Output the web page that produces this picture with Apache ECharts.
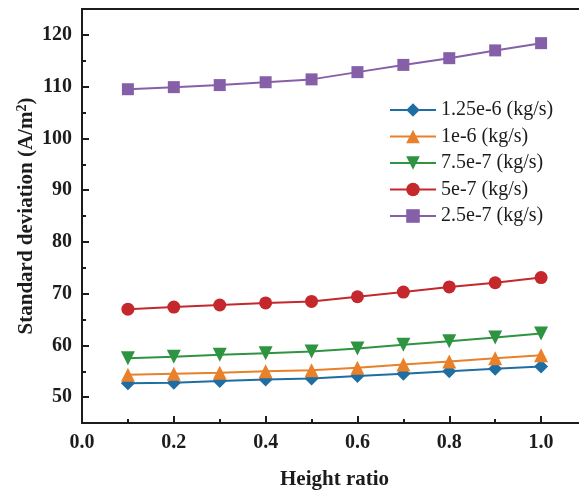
<!DOCTYPE html>
<html>
<head>
<meta charset="utf-8">
<script src="https://cdn.jsdelivr.net/npm/echarts@6/dist/echarts.min.js"></script>
<style>
  html, body { margin: 0; padding: 0; background: #fff; overflow: hidden; }
  /* the frame runs slightly past the right edge of the window */
  #chart { width: 587px; height: 491px; }
</style>
</head>
<body>
<div id="chart"></div>
<script>
// Height ratio sample points
const heightRatio = [0.1, 0.2, 0.3, 0.4, 0.5, 0.6, 0.7, 0.8, 0.9, 1.0];

// Standard deviation (A/m^2) for each mass flow rate
const flow125e6 = [52.7, 52.8, 53.1, 53.4, 53.6, 54.1, 54.5, 55.0, 55.5, 55.9];
const flow1e6   = [54.3, 54.5, 54.7, 55.0, 55.2, 55.7, 56.3, 56.9, 57.5, 58.1];
const flow75e7  = [57.5, 57.8, 58.2, 58.5, 58.8, 59.4, 60.1, 60.8, 61.5, 62.3];
const flow5e7   = [67.0, 67.4, 67.8, 68.2, 68.5, 69.4, 70.3, 71.3, 72.1, 73.1];
const flow25e7  = [109.5, 109.9, 110.3, 110.85, 111.4, 112.8, 114.2, 115.5, 117.0, 118.4];

const seriesNames = ['1.25e-6 (kg/s)', '1e-6 (kg/s)', '7.5e-7 (kg/s)', '5e-7 (kg/s)', '2.5e-7 (kg/s)'];

// Axis ticks and labels
const xMajorTicks = [0, 0.2, 0.4, 0.6, 0.8, 1.0];
const xMinorTicks = [0.1, 0.3, 0.5, 0.7, 0.9];
const yMajorTicks = [50, 60, 70, 80, 90, 100, 110, 120];
const yMinorTicks = [55, 65, 75, 85, 95, 105, 115];

const FONT = '"Liberation Serif", "Times New Roman", serif';
const INK = '#1c1c1c';

const styles = [
  { color: '#1f6ea3', symbol: 'diamond',  size: 14, rotate: 0 },
  { color: '#e8812a', symbol: 'triangle', size: 14, rotate: 0 },
  { color: '#2e9441', symbol: 'triangle', size: 14, rotate: 180 },
  { color: '#c4282c', symbol: 'circle',   size: 13, rotate: 0 },
  { color: '#8560a8', symbol: 'rect',     size: 12, rotate: 0 }
];
const values = [flow125e6, flow1e6, flow75e7, flow5e7, flow25e7];

const chart = echarts.init(document.getElementById('chart'), null, { renderer: 'canvas' });

const axisLabelBase = {
  fontFamily: FONT, fontWeight: 'bold', fontSize: 20, color: INK
};
const axisNameStyle = {
  fontFamily: FONT, fontWeight: 'bold', fontSize: 21, color: INK
};

chart.setOption({
  animation: false,
  backgroundColor: '#fff',
  grid: {
    left: 82, top: 9, right: 0, bottom: 68,
    outerBoundsMode: 'none',
    show: true, borderColor: INK, borderWidth: 2, backgroundColor: 'transparent'
  },
  legend: {
    orient: 'vertical',
    left: 384, top: 95,
    itemWidth: 46, itemHeight: 17, itemGap: 6.5,
    textStyle: { fontFamily: FONT, fontSize: 20, color: INK, lineHeight: 20 },
    data: seriesNames
  },
  xAxis: [{
    type: 'value', min: 0, max: 1.1,
    name: 'Height ratio', nameLocation: 'middle', nameGap: 46,
    nameMoveOverlap: false,
    nameTextStyle: axisNameStyle,
    axisLine: { lineStyle: { color: INK, width: 2 } },
    axisTick: { inside: true, length: 7, lineStyle: { color: INK, width: 2 }, customValues: xMajorTicks },
    axisLabel: Object.assign({ margin: 10, customValues: xMajorTicks, formatter: v => v.toFixed(1) }, axisLabelBase),
    splitLine: { show: false }
  }, {
    type: 'value', min: 0, max: 1.1, position: 'bottom',
    axisLine: { show: false },
    axisTick: { inside: true, length: 4, lineStyle: { color: INK, width: 2 }, customValues: xMinorTicks },
    axisLabel: { show: false },
    splitLine: { show: false }
  }],
  yAxis: [{
    type: 'value', min: 45, max: 125,
    name: 'Standard deviation (A/m{sup|2})', nameLocation: 'middle', nameGap: 44,
    nameMoveOverlap: false,
    nameTextStyle: Object.assign({
      rich: { sup: { fontFamily: FONT, fontWeight: 'bold', fontSize: 14, color: INK, verticalAlign: 'top', padding: [0, 0, 9, 0] } }
    }, axisNameStyle),
    axisLine: { show: true, lineStyle: { color: INK, width: 2 } },
    axisTick: { inside: true, length: 7, lineStyle: { color: INK, width: 2 }, customValues: yMajorTicks },
    axisLabel: Object.assign({ margin: 10, customValues: yMajorTicks }, axisLabelBase),
    splitLine: { show: false }
  }, {
    type: 'value', min: 45, max: 125, position: 'left',
    axisLine: { show: false },
    axisTick: { inside: true, length: 4, lineStyle: { color: INK, width: 2 }, customValues: yMinorTicks },
    axisLabel: { show: false },
    splitLine: { show: false }
  }],
  series: seriesNames.map((name, i) => ({
    name: name,
    type: 'line',
    xAxisIndex: 0, yAxisIndex: 0,
    data: heightRatio.map((x, j) => [x, values[i][j]]),
    symbol: styles[i].symbol,
    symbolSize: styles[i].size,
    symbolRotate: styles[i].rotate,
    showAllSymbol: true,
    lineStyle: { color: styles[i].color, width: 2 },
    itemStyle: { color: styles[i].color },
    emphasis: { disabled: true }
  }))
});
</script>
</body>
</html>
